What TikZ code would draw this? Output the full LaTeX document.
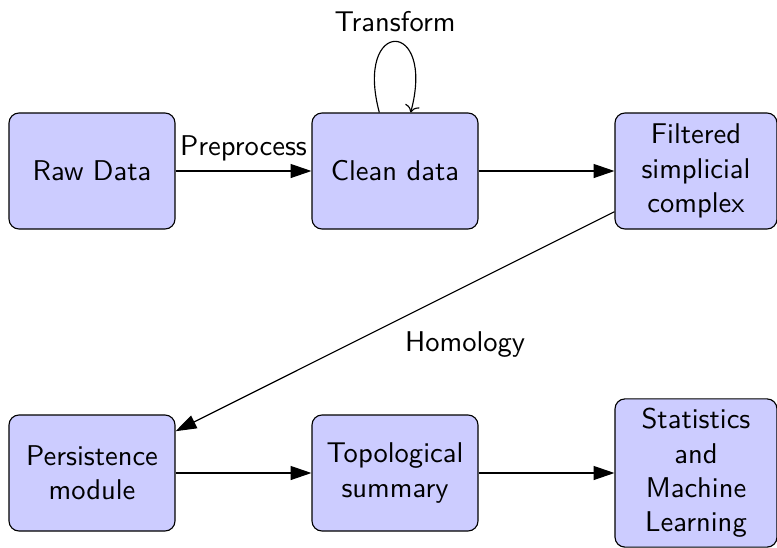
\documentclass[tikz,border=0pt]{standalone}
\usetikzlibrary{arrows.meta}
\begin{document}
\begin{tikzpicture}[x=0.35pt,y=-0.35pt,font=\sffamily,
  blockbox/.style={draw, fill=blue!20, rounded corners=3.5pt, align=center,
    minimum width=58.1pt, minimum height=40.6pt, inner sep=3.33pt},
  narrowbox/.style={blockbox, minimum width=56.7pt},
  arr/.style={-{Triangle[length=7.3pt,width=4.9pt]}}]
\useasboundingbox (0,0) rectangle (777,547);
\node[blockbox] (raw) at (92,171) {Raw Data};
\node[blockbox] (clean) at (395,171) {Clean data};
\node[narrowbox] (filt) at (696,171) {Filtered\\simplicial\\complex};
\node[blockbox] (pers) at (92,473) {Persistence\\module};
\node[blockbox] (topo) at (395,473) {Topological\\summary};
\node[narrowbox] (stat) at (696,473) {Statistics\\and\\Machine\\Learning};
\draw[arr] (raw) -- node[above] {Preprocess} (clean);
\draw[->] (clean) to[loop above] node[above] {Transform} (clean);
\draw[arr] (clean) -- (filt);
\draw[arr] (filt) -- node[midway, below right] {Homology} (pers);
\draw[arr] (pers) -- (topo);
\draw[arr] (topo) -- (stat);
\end{tikzpicture}
\end{document}
